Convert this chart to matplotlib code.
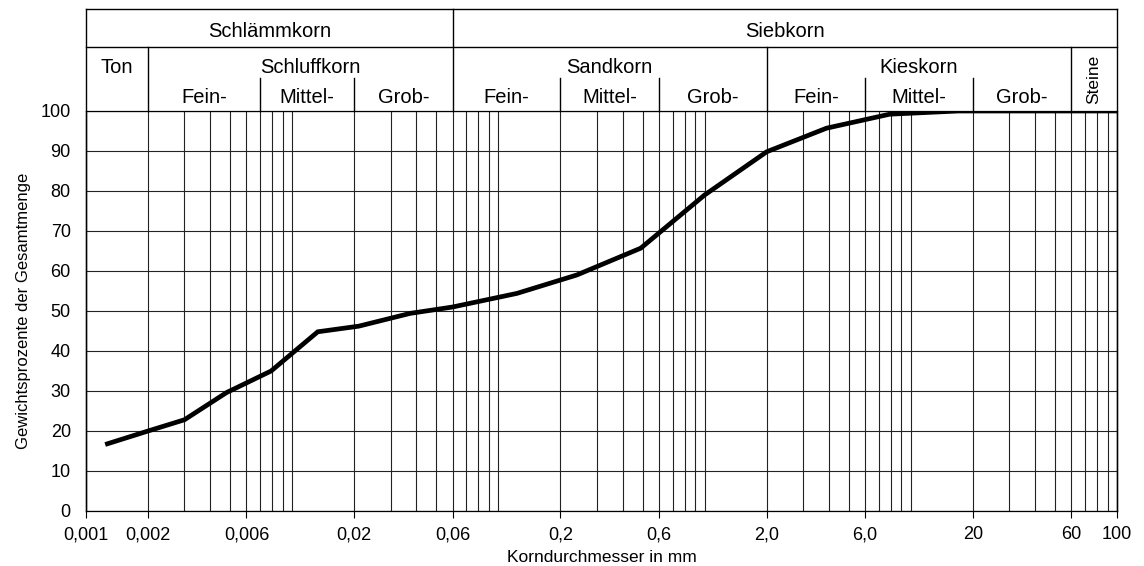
import matplotlib
matplotlib.use("Agg")
import matplotlib.pyplot as plt
import numpy as np
from matplotlib.ticker import FixedLocator, FixedFormatter, LogLocator, NullFormatter

plt.rcParams['font.family'] = ['Liberation Sans', 'DejaVu Sans']

# Sieblinie (grain size distribution)
korn_mm = [0.00127, 0.002, 0.003, 0.0048, 0.0079, 0.0133, 0.021, 0.0373, 0.06,
           0.123, 0.24, 0.49, 1.0, 2.0, 3.9, 7.9, 17.0, 100.0]
durchgang = [16.8, 20.0, 22.8, 29.6, 35.0, 44.8, 46.2, 49.4, 51.0,
             54.4, 59.0, 65.7, 79.0, 89.8, 95.7, 99.2, 100.0, 100.0]

x_ticks = [0.001, 0.002, 0.006, 0.02, 0.06, 0.2, 0.6, 2.0, 6.0, 20, 60, 100]
x_ticklabels = ['0,001', '0,002', '0,006', '0,02', '0,06', '0,2', '0,6',
                '2,0', '6,0', '20', '60', '100']
y_ticks = list(range(0, 101, 10))

# header bands
top_groups = [("Schlämmkorn", 0.001, 0.06), ("Siebkorn", 0.06, 100)]
mid_groups = [("Ton", 0.001, 0.002), ("Schluffkorn", 0.002, 0.06),
              ("Sandkorn", 0.06, 2.0), ("Kieskorn", 2.0, 60)]
sub_groups = [("Fein-", 0.002, 0.007), ("Mittel-", 0.007, 0.02), ("Grob-", 0.02, 0.06),
              ("Fein-", 0.06, 0.2), ("Mittel-", 0.2, 0.6), ("Grob-", 0.6, 2.0),
              ("Fein-", 2.0, 6.0), ("Mittel-", 6.0, 20), ("Grob-", 20, 60)]

fig = plt.figure(figsize=(11.44, 5.66), dpi=100)
ax = fig.add_axes([0.0752, 0.0972, 0.9012, 0.7067])

ax.plot(korn_mm, durchgang, color='black', lw=3.4, solid_joinstyle='miter', zorder=5)

ax.set_xscale('log')
ax.set_xlim(0.001, 100)
ax.set_ylim(0, 100)

ax.xaxis.set_major_locator(FixedLocator(x_ticks))
ax.xaxis.set_major_formatter(FixedFormatter(x_ticklabels))
ax.xaxis.set_minor_locator(LogLocator(base=10, subs=np.arange(1, 10), numticks=20))
ax.xaxis.set_minor_formatter(NullFormatter())
ax.set_yticks(y_ticks)

ax.tick_params(axis='x', which='major', length=5, width=0.8, pad=6, labelsize=13)
ax.tick_params(axis='x', which='minor', length=0)
ax.tick_params(axis='y', length=0, pad=11, labelsize=13)

grid_kw = dict(color='#222222', lw=0.8)
ax.grid(True, axis='x', which='both', **grid_kw)
ax.grid(True, axis='y', which='major', **grid_kw)
ax.set_axisbelow(True)
for s in ax.spines.values():
    s.set_linewidth(0.9)

ax.set_xlabel("Korndurchmesser in mm", fontsize=12.5, labelpad=5)
ax.set_ylabel("Gewichtsprozente der Gesamtmenge", fontsize=12, labelpad=7)

# header table above the plot
tr = ax.get_xaxis_transform()
y_top, y_mid, y_sub = 1.254, 1.16, 1.0825
line_kw = dict(color='black', lw=1.0, transform=tr, clip_on=False)
ax.plot([0.001, 100], [y_top, y_top], **line_kw)
ax.plot([0.001, 100], [y_mid, y_mid], **line_kw)
ax.plot([0.001, 0.001], [0, y_top], **line_kw)
ax.plot([100, 100], [0, y_top], **line_kw)
ax.plot([0.06, 0.06], [1, y_top], **line_kw)
for xv in [0.002, 2.0, 60]:
    ax.plot([xv, xv], [1, y_mid], **line_kw)
for xv in [0.007, 0.02, 0.2, 0.6, 6.0, 20]:
    ax.plot([xv, xv], [1, y_sub], **line_kw)

def gmean(a, b):
    return np.sqrt(a * b)

for name, a, b in top_groups:
    ax.text(gmean(a, b), 1.198, name, transform=tr, ha='center', va='center', fontsize=14.5)
for name, a, b in mid_groups:
    xc = gmean(a, b)
    if name == "Schluffkorn":
        xc = 0.0123
    ax.text(xc, 1.108, name, transform=tr, ha='center', va='center', fontsize=14.5)
for name, a, b in sub_groups:
    ax.text(gmean(a, b), 1.034, name, transform=tr, ha='center', va='center', fontsize=14.5)
ax.text(gmean(60, 100), 1.08, "Steine", transform=tr, ha='center', va='center',
        rotation=90, fontsize=12.5)

fig.savefig("out.png", dpi=100)
